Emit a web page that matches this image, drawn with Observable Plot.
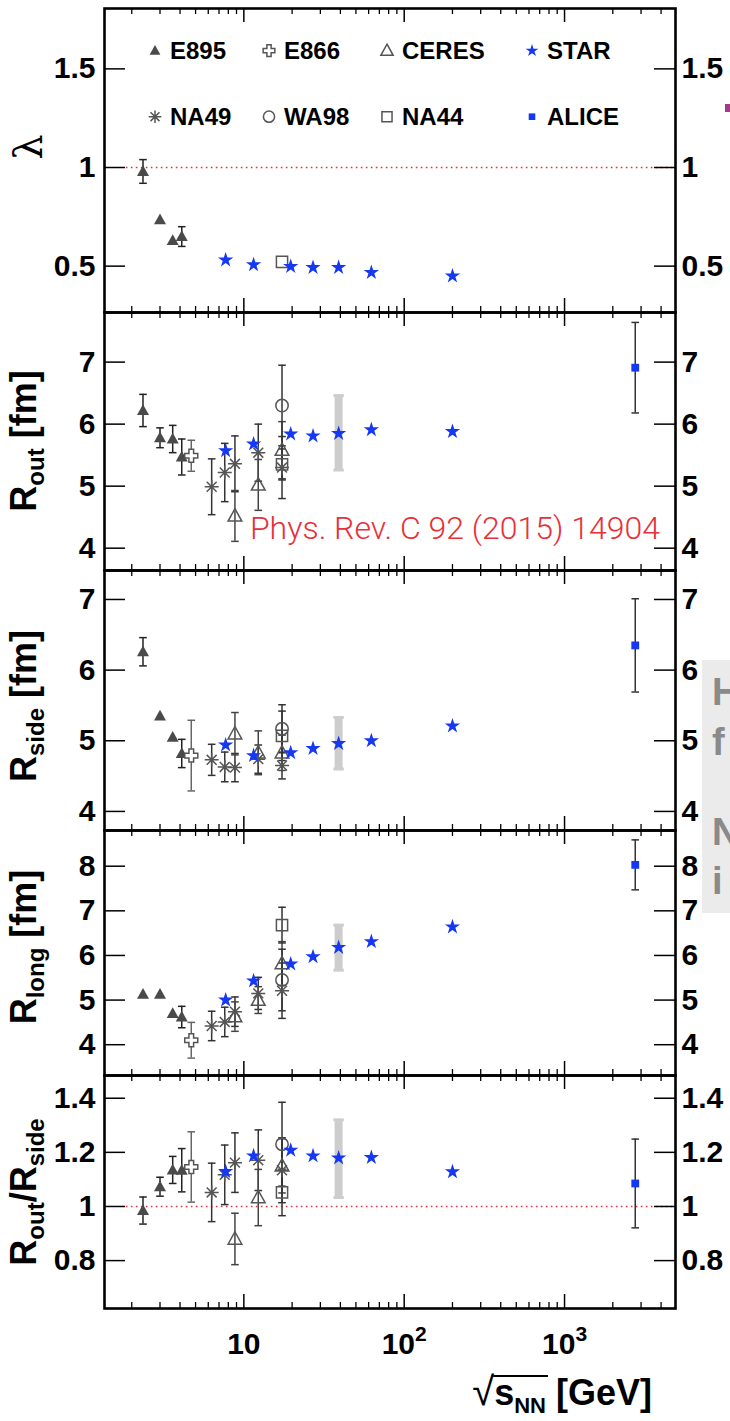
<!DOCTYPE html>
<html><head><meta charset="utf-8">
<script src="https://cdn.jsdelivr.net/npm/d3@7"></script>
<script src="https://cdn.jsdelivr.net/npm/@observablehq/plot@0.6"></script>
<style>
body{margin:0;background:#fff;}
#wrap{position:relative;width:730px;height:1421px;overflow:hidden;background:#fff;font-family:"Liberation Sans",Arial,sans-serif;}
#wrap svg{position:absolute;left:0;overflow:visible;}
</style></head><body><div id="wrap"></div>
<script>
// ---------- data ----------
const experiments = ["E895","E866","CERES","STAR","NA49","WA98","NA44","ALICE"];
const xE895 = [2.35, 3.0, 3.6, 4.1];
const xE866 = [4.7];
const xNA49 = [6.3, 7.6, 8.8, 12.3, 17.3];
const xCERES = [8.8, 12.3, 17.3];
const xWA98 = [17.3];
const xNA44 = [17.3];
const xSTAR = [7.7, 11.5, 19.6, 27, 39, 62.4, 200];
const xALICE = [2760];
const xSTARsys = [39];

// [value, error]
const E895_lambda = [[0.98,0.06],[0.735,0],[0.63,0],[0.65,0.05]];
const E895_Rout   = [[6.22,0.26],[5.78,0.16],[5.76,0.22],[5.47,0.29]];
const E895_Rside  = [[6.26,0.2],[5.35,0],[5.05,0],[4.82,0.2]];
const E895_Rlong  = [[5.13,0],[5.13,0],[4.70,0],[4.62,0.24]];
const E895_ratio  = [[0.985,0.05],[1.073,0.035],[1.135,0.05],[1.134,0.08]];

const E866_Rout  = [[5.49,0.25]];
const E866_Rside = [[4.79,0.5]];
const E866_Rlong = [[4.10,0.4]];
const E866_ratio = [[1.146,0.13]];

const NA49_Rout  = [[4.99,0.45],[5.22,0.47],[5.36,0.45],[5.54,0.46],[5.30,0.5]];
const NA49_Rside = [[4.73,0.22],[4.63,0.21],[4.62,0.2],[4.74,0.2],[4.65,0.19]];
const NA49_Rlong = [[4.42,0.33],[4.51,0.33],[4.74,0.33],[5.15,0.36],[5.21,0.62]];
const NA49_ratio = [[1.052,0.108],[1.117,0.11],[1.162,0.11],[1.171,0.112],[1.134,0.12]];

const CERES_Rout  = [[4.52,0.41],[5.02,0.41],[5.58,0.46]];
const CERES_Rside = [[5.10,0.3],[4.83,0.31],[4.83,0.25]];
const CERES_Rlong = [[4.63,0.33],[5.00,0.3],[5.82,0.49]];
const CERES_ratio = [[0.88,0.095],[1.033,0.104],[1.15,0.1]];

const WA98_Rout  = [[6.30,0.65]];
const WA98_Rside = [[5.17,0.34]];
const WA98_Rlong = [[5.45,0.69]];
const WA98_ratio = [[1.23,0.155]];

const NA44_lambda = [[0.522,0]];
const NA44_Rout  = [[5.35,0.25]];
const NA44_Rside = [[5.07,0.35]];
const NA44_Rlong = [[6.68,0.40]];
const NA44_ratio = [[1.052,0.086]];

const STAR_lambda = [0.531,0.507,0.498,0.493,0.493,0.468,0.45];
const STAR_Rout   = [5.57,5.68,5.84,5.81,5.85,5.91,5.88];
const STAR_Rside  = [4.94,4.79,4.83,4.89,4.96,5.00,5.21];
const STAR_Rlong  = [5.00,5.43,5.81,5.97,6.18,6.31,6.64];
const STAR_ratio  = [1.129,1.187,1.208,1.187,1.179,1.181,1.128];

// STAR systematic band at 39 GeV: [low, high]
const STARsys_Rout  = [[5.26,6.46]];
const STARsys_Rside = [[4.60,5.33]];
const STARsys_Rlong = [[5.67,6.68]];
const STARsys_ratio = [[1.033,1.32]];

const ALICE_Rout  = [[6.91,0.73]];
const ALICE_Rside = [[6.35,0.66]];
const ALICE_Rlong = [[8.03,0.56]];
const ALICE_ratio = [[1.085,0.164]];

const panelKeys = ["lambda","Rout","Rside","Rlong","ratio"];
const yDomains = [[0.265,1.806],[3.64,7.80],[3.73,7.41],[3.31,8.80],[0.623,1.484]];
const yTicks = [[0.5,1,1.5],[4,5,6,7],[4,5,6,7],[4,5,6,7,8],[0.8,1,1.2,1.4]];
const refLineValue = 1;        // dotted reference in lambda and ratio panels
const refLineStart = 1.85;
const xDomain = [1.352, 4920];
const xMajor = [10, 100, 1000];
const xMinor = [2,3,4,5,6,7,8,9,20,30,40,50,60,70,80,90,200,300,400,500,600,700,800,900,2000,3000,4000];
const xTickLabels = {10: ["10",""], 100: ["10","2"], 1000: ["10","3"]};

// ---------- layout / style ----------
const W = 730, ML = 104, MR = 55;
const panelTop = [8, 312, 570, 830, 1075];
const panelBottom = [312, 570, 830, 1075, 1308];
const FONT = "'Liberation Sans', Arial, Helvetica, sans-serif";
const BLUE = "#1538f2";
const RED = "#e8303a";

const sym = {
  triangle: {draw(c, s){ const r = Math.sqrt(s/Math.PI); c.moveTo(0,-r); c.lineTo(r*0.95, r*0.72); c.lineTo(-r*0.95, r*0.72); c.closePath(); }},
  square: {draw(c, s){ const r = Math.sqrt(s/Math.PI); c.moveTo(-r,-r); c.lineTo(r,-r); c.lineTo(r,r); c.lineTo(-r,r); c.closePath(); }},
  cross: {draw(c, s){ const r = Math.sqrt(s/Math.PI), a = r*0.36;
    c.moveTo(-a,-r); c.lineTo(a,-r); c.lineTo(a,-a); c.lineTo(r,-a); c.lineTo(r,a); c.lineTo(a,a);
    c.lineTo(a,r); c.lineTo(-a,r); c.lineTo(-a,a); c.lineTo(-r,a); c.lineTo(-r,-a); c.lineTo(-a,-a); c.closePath(); }},
  asterisk: {draw(c, s){ const r = Math.sqrt(s/Math.PI), d = r*0.7071;
    c.moveTo(-r,0); c.lineTo(r,0); c.moveTo(0,-r); c.lineTo(0,r);
    c.moveTo(-d,-d); c.lineTo(d,d); c.moveTo(-d,d); c.lineTo(d,-d); }},
  circle: {draw(c, s){ const r = Math.sqrt(s/Math.PI); c.moveTo(r,0); c.arc(0,0,r,0,2*Math.PI); }},
  cap: {draw(c, s){ const r = Math.sqrt(s/Math.PI); c.moveTo(-r,0); c.lineTo(r,0); }},
  star: d3.symbolStar
};
const style = {
  E895:  {symbol: sym.triangle, r: 6.3, fill: "#4a4a4a", stroke: "none", bar: "#222"},
  E866:  {symbol: sym.cross,    r: 6.5, fill: "white",   stroke: "#555", bar: "#666"},
  CERES: {symbol: sym.triangle, r: 7.2, fill: "none",    stroke: "#555", bar: "#444"},
  STAR:  {symbol: sym.star,     r: 4.8, fill: BLUE,      stroke: "none", bar: BLUE},
  NA49:  {symbol: sym.asterisk, r: 7,   fill: "none",    stroke: "#555", bar: "#333"},
  WA98:  {symbol: sym.circle,   r: 6.2, fill: "none",    stroke: "#555", bar: "#333"},
  NA44:  {symbol: sym.square,   r: 5.6, fill: "none",    stroke: "#555", bar: "#333"},
  ALICE: {symbol: sym.square,   r: 3.9, fill: BLUE,      stroke: "none", bar: "#333"}
};
const xOf = {E895: xE895, E866: xE866, CERES: xCERES, STAR: xSTAR, NA49: xNA49, WA98: xWA98, NA44: xNA44, ALICE: xALICE};
const panelData = {
  lambda: {E895: E895_lambda, NA44: NA44_lambda, STAR: STAR_lambda},
  Rout:  {E895: E895_Rout, E866: E866_Rout, NA49: NA49_Rout, CERES: CERES_Rout, WA98: WA98_Rout, NA44: NA44_Rout, ALICE: ALICE_Rout, STAR: STAR_Rout},
  Rside: {E895: E895_Rside, E866: E866_Rside, NA49: NA49_Rside, CERES: CERES_Rside, WA98: WA98_Rside, NA44: NA44_Rside, ALICE: ALICE_Rside, STAR: STAR_Rside},
  Rlong: {E895: E895_Rlong, E866: E866_Rlong, NA49: NA49_Rlong, CERES: CERES_Rlong, WA98: WA98_Rlong, NA44: NA44_Rlong, ALICE: ALICE_Rlong, STAR: STAR_Rlong},
  ratio: {E895: E895_ratio, E866: E866_ratio, NA49: NA49_ratio, CERES: CERES_ratio, WA98: WA98_ratio, NA44: NA44_ratio, ALICE: ALICE_ratio, STAR: STAR_ratio}
};
const sysOf = {Rout: STARsys_Rout, Rside: STARsys_Rside, Rlong: STARsys_Rlong, ratio: STARsys_ratio};
const drawOrder = ["E895","E866","NA49","CERES","WA98","NA44","ALICE","STAR"];

function toRows(xs, vals) {
  return xs.map((x, i) => {
    const v = vals[i];
    return Array.isArray(v) ? {x, v: v[0], e: v[1]} : {x, v, e: 0};
  });
}

const wrap = document.getElementById("wrap");

panelKeys.forEach((key, i) => {
  const mt = 14, mb = i === 4 ? 120 : 14;
  const fh = panelBottom[i] - panelTop[i];
  const fw = W - ML - MR;
  const marks = [];

  if (key === "lambda" || key === "ratio") {
    marks.push(Plot.ruleY([refLineValue], {x1: refLineStart, x2: xDomain[1], stroke: RED, strokeWidth: 1.6, strokeDasharray: "1.6,3.4"}));
  }
  if (sysOf[key]) {
    const sys = xSTARsys.map((x, j) => ({x, lo: sysOf[key][j][0], hi: sysOf[key][j][1]}));
    marks.push(Plot.ruleX(sys, {x: "x", y1: "lo", y2: "hi", stroke: "#cdcdcd", strokeWidth: 8}));
    marks.push(Plot.dot(sys, {x: "x", y: "lo", symbol: sym.cap, r: 5.2, stroke: "#cdcdcd", strokeWidth: 3, fill: "none"}));
    marks.push(Plot.dot(sys, {x: "x", y: "hi", symbol: sym.cap, r: 5.2, stroke: "#cdcdcd", strokeWidth: 3, fill: "none"}));
  }
  const data = panelData[key];
  // error bars
  drawOrder.forEach(exp => {
    if (!data[exp]) return;
    const rows = toRows(xOf[exp], data[exp]).filter(d => d.e > 0);
    if (!rows.length) return;
    const st = style[exp];
    marks.push(Plot.ruleX(rows, {x: "x", y1: d => d.v - d.e, y2: d => d.v + d.e, stroke: st.bar, strokeWidth: 1.5}));
    marks.push(Plot.dot(rows, {x: "x", y: d => d.v + d.e, symbol: sym.cap, r: 3.8, stroke: st.bar, strokeWidth: 1.5, fill: "none"}));
    marks.push(Plot.dot(rows, {x: "x", y: d => d.v - d.e, symbol: sym.cap, r: 3.8, stroke: st.bar, strokeWidth: 1.5, fill: "none"}));
  });
  // markers
  drawOrder.forEach(exp => {
    if (!data[exp]) return;
    const rows = toRows(xOf[exp], data[exp]);
    const st = style[exp];
    marks.push(Plot.dot(rows, {x: "x", y: "v", symbol: st.symbol, r: st.r, fill: st.fill, stroke: st.stroke, strokeWidth: 1.5}));
  });
  // ticks (inward)
  marks.push(Plot.tickY(yTicks[i], {y: d => d, insetRight: fw - 21, stroke: "#000", strokeWidth: 1.5}));
  marks.push(Plot.tickY(yTicks[i], {y: d => d, insetLeft: fw - 21, stroke: "#000", strokeWidth: 1.5}));
  marks.push(Plot.tickX(xMajor, {x: d => d, insetTop: fh - 14, stroke: "#000", strokeWidth: 1.5}));
  marks.push(Plot.tickX(xMajor, {x: d => d, insetBottom: fh - 14, stroke: "#000", strokeWidth: 1.5}));
  marks.push(Plot.tickX(xMinor, {x: d => d, insetTop: fh - 6, stroke: "#000", strokeWidth: 1.3}));
  marks.push(Plot.tickX(xMinor, {x: d => d, insetBottom: fh - 6, stroke: "#000", strokeWidth: 1.3}));
  // tick labels
  const fmt = d => String(d);
  marks.push(Plot.axisY({ticks: yTicks[i], anchor: "left", tickSize: 0, tickPadding: 9, tickFormat: fmt, fontSize: 30, fontWeight: "bold", label: null}));
  marks.push(Plot.axisY({ticks: yTicks[i], anchor: "right", tickSize: 0, tickPadding: 6, tickFormat: fmt, fontSize: 30, fontWeight: "bold", label: null}));
  if (i === 4) {
    marks.push(Plot.axisX({ticks: xMajor, anchor: "bottom", tickSize: 0, tickPadding: 24, tickFormat: d => String(d), fontSize: 30, fontWeight: "bold", label: null}));
  }
  marks.push(Plot.frame({stroke: "#000", strokeWidth: 2.6}));

  const svg = Plot.plot({
    width: W, height: fh + mt + mb,
    marginLeft: ML, marginRight: MR, marginTop: mt, marginBottom: mb,
    x: {type: "log", domain: xDomain, ...(i === 4 ? {} : {axis: null})},
    y: {domain: yDomains[i]},
    style: {background: "transparent", fontFamily: FONT, overflow: "visible"},
    marks
  });
  svg.style.top = (panelTop[i] - mt) + "px";
  wrap.appendChild(svg);

  if (i === 4) {
    d3.select(svg).selectAll("g[aria-label='x-axis tick label'] text").each(function(d) {
      const t = d3.select(this);
      const raw = t.text();
      const lab = xTickLabels[+raw];
      if (!lab) return;
      t.text(lab[0]);
      if (lab[1]) t.append("tspan").attr("font-size", 21).attr("dy", -13).text(lab[1]);
    });
  }
});

// ---------- overlay: axis titles, legend, annotation ----------
const ov = d3.select(wrap).append("svg")
  .attr("width", W).attr("height", 1421)
  .style("top", "0px").style("font-family", FONT);

function yTitle(parts, cx, cy) {
  const t = ov.append("text")
    .attr("transform", `translate(${cx},${cy}) rotate(-90)`)
    .attr("text-anchor", "middle").attr("font-size", 36).attr("font-weight", "bold");
  let inSub = false;
  parts.forEach(([s, sub]) => {
    const ts = t.append("tspan").text(s);
    if (sub && !inSub) { ts.attr("font-size", 24).attr("dy", 8); inSub = true; }
    else if (sub) { ts.attr("font-size", 24); }
    else if (inSub) { ts.attr("dy", -8); inSub = false; }
  });
}
ov.append("text").attr("transform", "translate(42,147) rotate(-90)").attr("text-anchor", "middle")
  .attr("font-family", "'DejaVu Serif', serif").attr("font-size", 40).text("λ");
yTitle([["R"],["out",1],[" [fm]"]], 36, 441);
yTitle([["R"],["side",1],[" [fm]"]], 36, 706);
yTitle([["R"],["long",1],[" [fm]"]], 36, 947);
yTitle([["R"],["out",1],["/R"],["side",1]], 36, 1192);

// x title
const xt = ov.append("text").attr("x", 652).attr("y", 1405).attr("text-anchor", "end")
  .attr("font-size", 36).attr("font-weight", "bold");
xt.append("tspan").attr("font-weight", "normal").attr("font-size", 40).text("√");
xt.append("tspan").text("s");
xt.append("tspan").attr("font-size", 22).attr("dy", 8).text("NN");
xt.append("tspan").attr("dy", -8).text(" [GeV]");
try {
  const n = xt.node();
  const a = n.getEndPositionOfChar(0), b = n.getEndPositionOfChar(3);
  ov.append("line").attr("x1", a.x - 1).attr("x2", b.x + 2).attr("y1", 1376).attr("y2", 1376)
    .attr("stroke", "#000").attr("stroke-width", 2);
} catch (e) {}

// legend
const legCols = [155, 269, 387, 532], legRows = [50.7, 116.7];
experiments.forEach((exp, k) => {
  const cx = legCols[k % 4], cy = legRows[Math.floor(k / 4)];
  const st = style[exp];
  const r = exp === "STAR" ? 4.0 : exp === "ALICE" ? 3.3 : st.r * 0.9;
  ov.append("path").attr("d", d3.symbol(st.symbol, Math.PI * r * r)())
    .attr("transform", `translate(${cx},${cy})`)
    .attr("fill", st.fill).attr("stroke", st.stroke).attr("stroke-width", 1.5);
  ov.append("text").attr("x", cx + 15).attr("y", cy + 8.6).attr("font-size", 24).attr("font-weight", "bold").text(exp);
});

// annotation
ov.append("text").attr("x", 660).attr("y", 539).attr("text-anchor", "end")
  .attr("font-family", "Roboto, 'Liberation Sans', sans-serif").attr("font-weight", 300)
  .attr("font-size", 32).attr("fill", RED).text("Phys. Rev. C 92 (2015) 14904");

// cropped slide content at the right edge
ov.append("rect").attr("x", 702).attr("y", 660).attr("width", 28).attr("height", 253).attr("fill", "#ebebeb");
[["H", 705], ["f", 755], ["N", 845], ["i", 894]].forEach(([s, y]) =>
  ov.append("text").attr("x", 712).attr("y", y).attr("font-size", 38).attr("font-weight", "bold").attr("fill", "#8a8a8a").text(s));
ov.append("rect").attr("x", 725).attr("y", 104).attr("width", 5).attr("height", 8).attr("fill", "#a23a93");
</script></body></html>
